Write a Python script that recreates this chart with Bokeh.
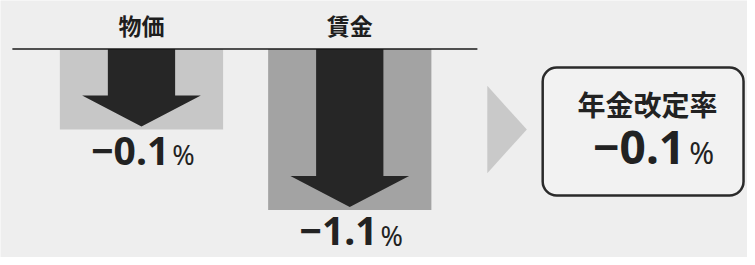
from bokeh.plotting import figure
from bokeh.models import Range1d
from bokeh.core.properties import value
from bokeh.embed import file_html
from bokeh.resources import INLINE

# ---- data ----
categories = ["物価", "賃金"]
change_pct = [-0.1, -1.1]
arrow_depth = [1.0, 2.0]          # illustrative relative arrow lengths as drawn
result_title = "年金改定率"
result_pct = -0.1

# ---- layout (reference pixel frame 755x265, y downward; stored as negative y) ----
W, H = 747, 257
REF_W, REF_H = 755, 265
BASE_Y = 50
UNIT = 83
CENTERS = [142.5, 353]
BOX_HALF = 82.5
SHAFT_HALF = 34
HEAD_HALF = 60
HEAD_LEN = 32
BOX_COLORS = ["#c7c7c7", "#a3a3a3"]
DARK = "#262626"
BG = "#eeeeee"
JP = value("Noto Sans CJK JP")
NUM = value("Noto Sans")


def fmt(v):
    return f"{v:.1f}".replace("-", "\u2212")


p = figure(width=W, height=H, x_range=Range1d(0, REF_W),
           y_range=Range1d(-REF_H, 0), output_backend="svg",
           toolbar_location=None, min_border=0,
           x_axis_location=None, y_axis_location=None)
p.grid.visible = False
p.outline_line_color = None
p.background_fill_color = BG
p.border_fill_color = BG

# boxes
bottoms = [BASE_Y + d * UNIT for d in arrow_depth]
p.quad(left=[c - BOX_HALF for c in CENTERS], right=[c + BOX_HALF for c in CENTERS],
       top=[-BASE_Y] * len(CENTERS), bottom=[-b for b in bottoms],
       fill_color=BOX_COLORS, line_color=None)

# arrows
xs, ys = [], []
for c, b in zip(CENTERS, bottoms):
    tip = b - 3
    hs = tip - HEAD_LEN
    xs.append([c - SHAFT_HALF, c + SHAFT_HALF, c + SHAFT_HALF, c + HEAD_HALF, c,
               c - HEAD_HALF, c - SHAFT_HALF])
    ys.append([-BASE_Y, -BASE_Y, -hs, -hs, -tip, -hs, -hs])
p.patches(xs=xs, ys=ys, fill_color=DARK, line_color=None)

# baseline
p.segment(x0=[12], y0=[-BASE_Y], x1=[482], y1=[-BASE_Y], line_color="#1a1a1a", line_width=1.6)

# category labels
p.text(x=CENTERS, y=[-25] * 2, text=categories, text_font=JP, text_font_size="23px",
       text_font_style="bold", text_align="center", text_baseline="middle", text_color="#1e1e1e")

# value labels (vertical centre of digits just below the box)
val_y = [-(b + 22) for b in bottoms]
p.text(x=[c + 28 for c in CENTERS], y=val_y,
       text=[fmt(v) for v in change_pct], text_font=NUM, text_font_size="39px",
       text_font_style="bold", text_align="right", text_baseline="middle", text_color="#222222")
p.text(x=[c + 31 for c in CENTERS], y=[v - 4 for v in val_y],
       text=["%"] * 2, text_font=NUM, text_font_size="27px",
       text_align="left", text_baseline="middle", text_color="#222222")

# chevron
p.patch(x=[492, 532, 492], y=[-88, -133, -178], fill_color="#c9c9c9", line_color=None)

# result box
p.quad(left=[548], right=[751], top=[-69], bottom=[-201], fill_color="#f2f2f2",
       line_color="#2a2a2a", line_width=2.5, border_radius=14)
p.text(x=[654], y=[-107], text=[result_title], text_font=JP, text_font_size="28px",
       text_font_style="bold", text_align="center", text_baseline="middle", text_color="#222222")
p.text(x=[692], y=[-152], text=[fmt(result_pct)], text_font=NUM, text_font_size="46px",
       text_font_style="bold", text_align="right", text_baseline="middle", text_color="#222222")
p.text(x=[696], y=[-157], text=["%"], text_font=NUM, text_font_size="30px",
       text_align="left", text_baseline="middle", text_color="#222222")

open("out.html", "w").write(file_html(p, INLINE))
